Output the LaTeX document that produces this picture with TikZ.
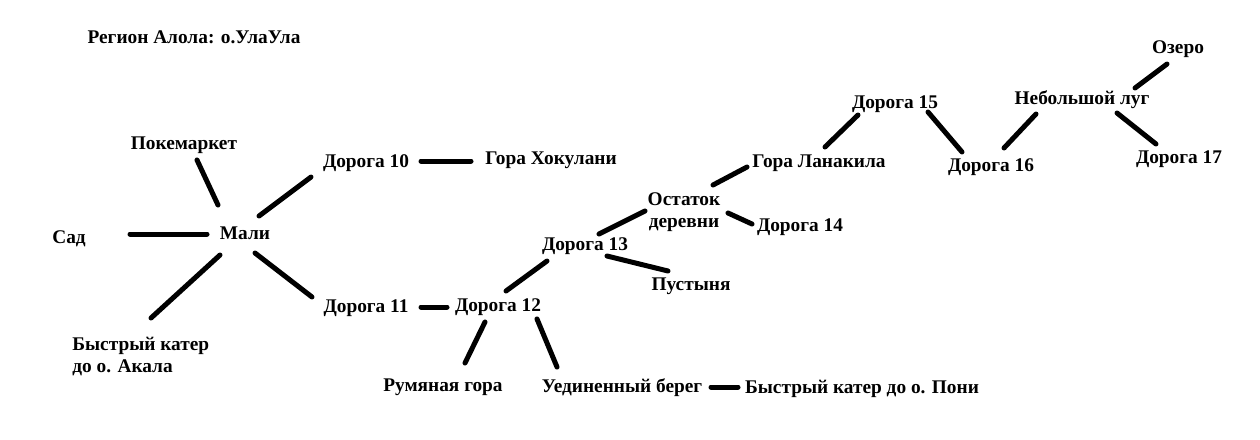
\documentclass[tikz,border=0pt]{standalone}
\usepackage{fontspec}
\setmainfont{Liberation Serif}
\usepackage{tikz}

\begin{document}
\begin{tikzpicture}[
    x=0.2mm, y=-0.2mm,
    font=\fontsize{11}{12.5}\selectfont\bfseries,
    place/.style={inner sep=0pt, text height=2.9mm, text depth=0.4mm},
    link/.style={draw, line width=1mm, line cap=round}]

  \fill[white] (0,0) rectangle (1260,439);
  \useasboundingbox (0,0) rectangle (1260,439);

  \node[place] (title) at (194,37) {Регион Алола: о.УлаУла};

  % Мали and around
  \node[place] (mali) at (245,233) {Мали};
  \node[place] (pokem) at (184,143) {Покемаркет};
  \node[place] (sad) at (69,237) {Сад};
  \node[place, align=left, anchor=west] (akala) at (72,366)
    {Быстрый катер\\до о. Акала};

  % routes 10--12
  \node[place] (d10) at (366,161) {Дорога 10};
  \node[place] (khok) at (551,158) {Гора Хокулани};
  \node[place] (d11) at (366,306) {Дорога 11};
  \node[place] (d12) at (498,305) {Дорога 12};
  \node[place] (rum) at (443,385) {Румяная гора};
  \node[place] (ued) at (622,386) {Уединенный берег};
  \node[place] (poni) at (862,387) {Быстрый катер до о. Пони};

  % routes 13--17
  \node[place] (d13) at (585,244) {Дорога 13};
  \node[place] (pust) at (691,284) {Пустыня};
  \node[place, align=center] (ost) at (684,221) {Остаток\\деревни};
  \node[place] (d14) at (800,225) {Дорога 14};
  \node[place] (lan) at (819,161) {Гора Ланакила};
  \node[place] (d15) at (895,102) {Дорога 15};
  \node[place] (d16) at (991,165) {Дорога 16};
  \node[place] (lug) at (1082,98) {Небольшой луг};
  \node[place] (ozero) at (1178,47) {Озеро};
  \node[place] (d17) at (1179,157) {Дорога 17};

  \draw[link] ([shift={(13,17)}]pokem.center) -- ([shift={(-27,-28)}]mali.center);
  \draw[link] ([shift={(61,-3)}]sad.center) -- ([shift={(-38,1)}]mali.center);
  \draw[link] ([shift={(-25,22)}]mali.center) -- ([shift={(79,-48)}]akala.west);
  \draw[link] ([shift={(14,-17)}]mali.center) -- ([shift={(-55,16)}]d10.center);
  \draw[link] ([shift={(10,20)}]mali.center) -- ([shift={(-54,-9)}]d11.center);
  \draw[link] ([shift={(55,0)}]d10.center) -- ([shift={(-80,3)}]khok.center);
  \draw[link] ([shift={(55,1)}]d11.center) -- ([shift={(-51,2)}]d12.center);
  \draw[link] ([shift={(-13,17)}]d12.center) -- ([shift={(22,-22)}]rum.center);
  \draw[link] ([shift={(39,14)}]d12.center) -- ([shift={(-65,-19)}]ued.center);
  \draw[link] ([shift={(89,1)}]ued.center) -- ([shift={(-124,0)}]poni.center);
  \draw[link] ([shift={(8,-14)}]d12.center) -- ([shift={(-38,17)}]d13.center);
  \draw[link] ([shift={(22,12)}]d13.center) -- ([shift={(-23,-13)}]pust.center);
  \draw[link] ([shift={(14,-10)}]d13.center) -- ([shift={(-39,-10)}]ost.center);
  \draw[link] ([shift={(44,-8)}]ost.center) -- ([shift={(-48,-1)}]d14.center);
  \draw[link] ([shift={(29,-36)}]ost.center) -- ([shift={(-72,6)}]lan.center);
  \draw[link] ([shift={(6,-14)}]lan.center) -- ([shift={(-37,13)}]d15.center);
  \draw[link] ([shift={(33,10)}]d15.center) -- ([shift={(-29,-13)}]d16.center);
  \draw[link] ([shift={(13,-17)}]d16.center) -- ([shift={(-46,16)}]lug.center);
  \draw[link] ([shift={(53,-10)}]lug.center) -- ([shift={(-11,17)}]ozero.center);
  \draw[link] ([shift={(35,15)}]lug.center) -- ([shift={(-23,-13)}]d17.center);
\end{tikzpicture}
\end{document}
